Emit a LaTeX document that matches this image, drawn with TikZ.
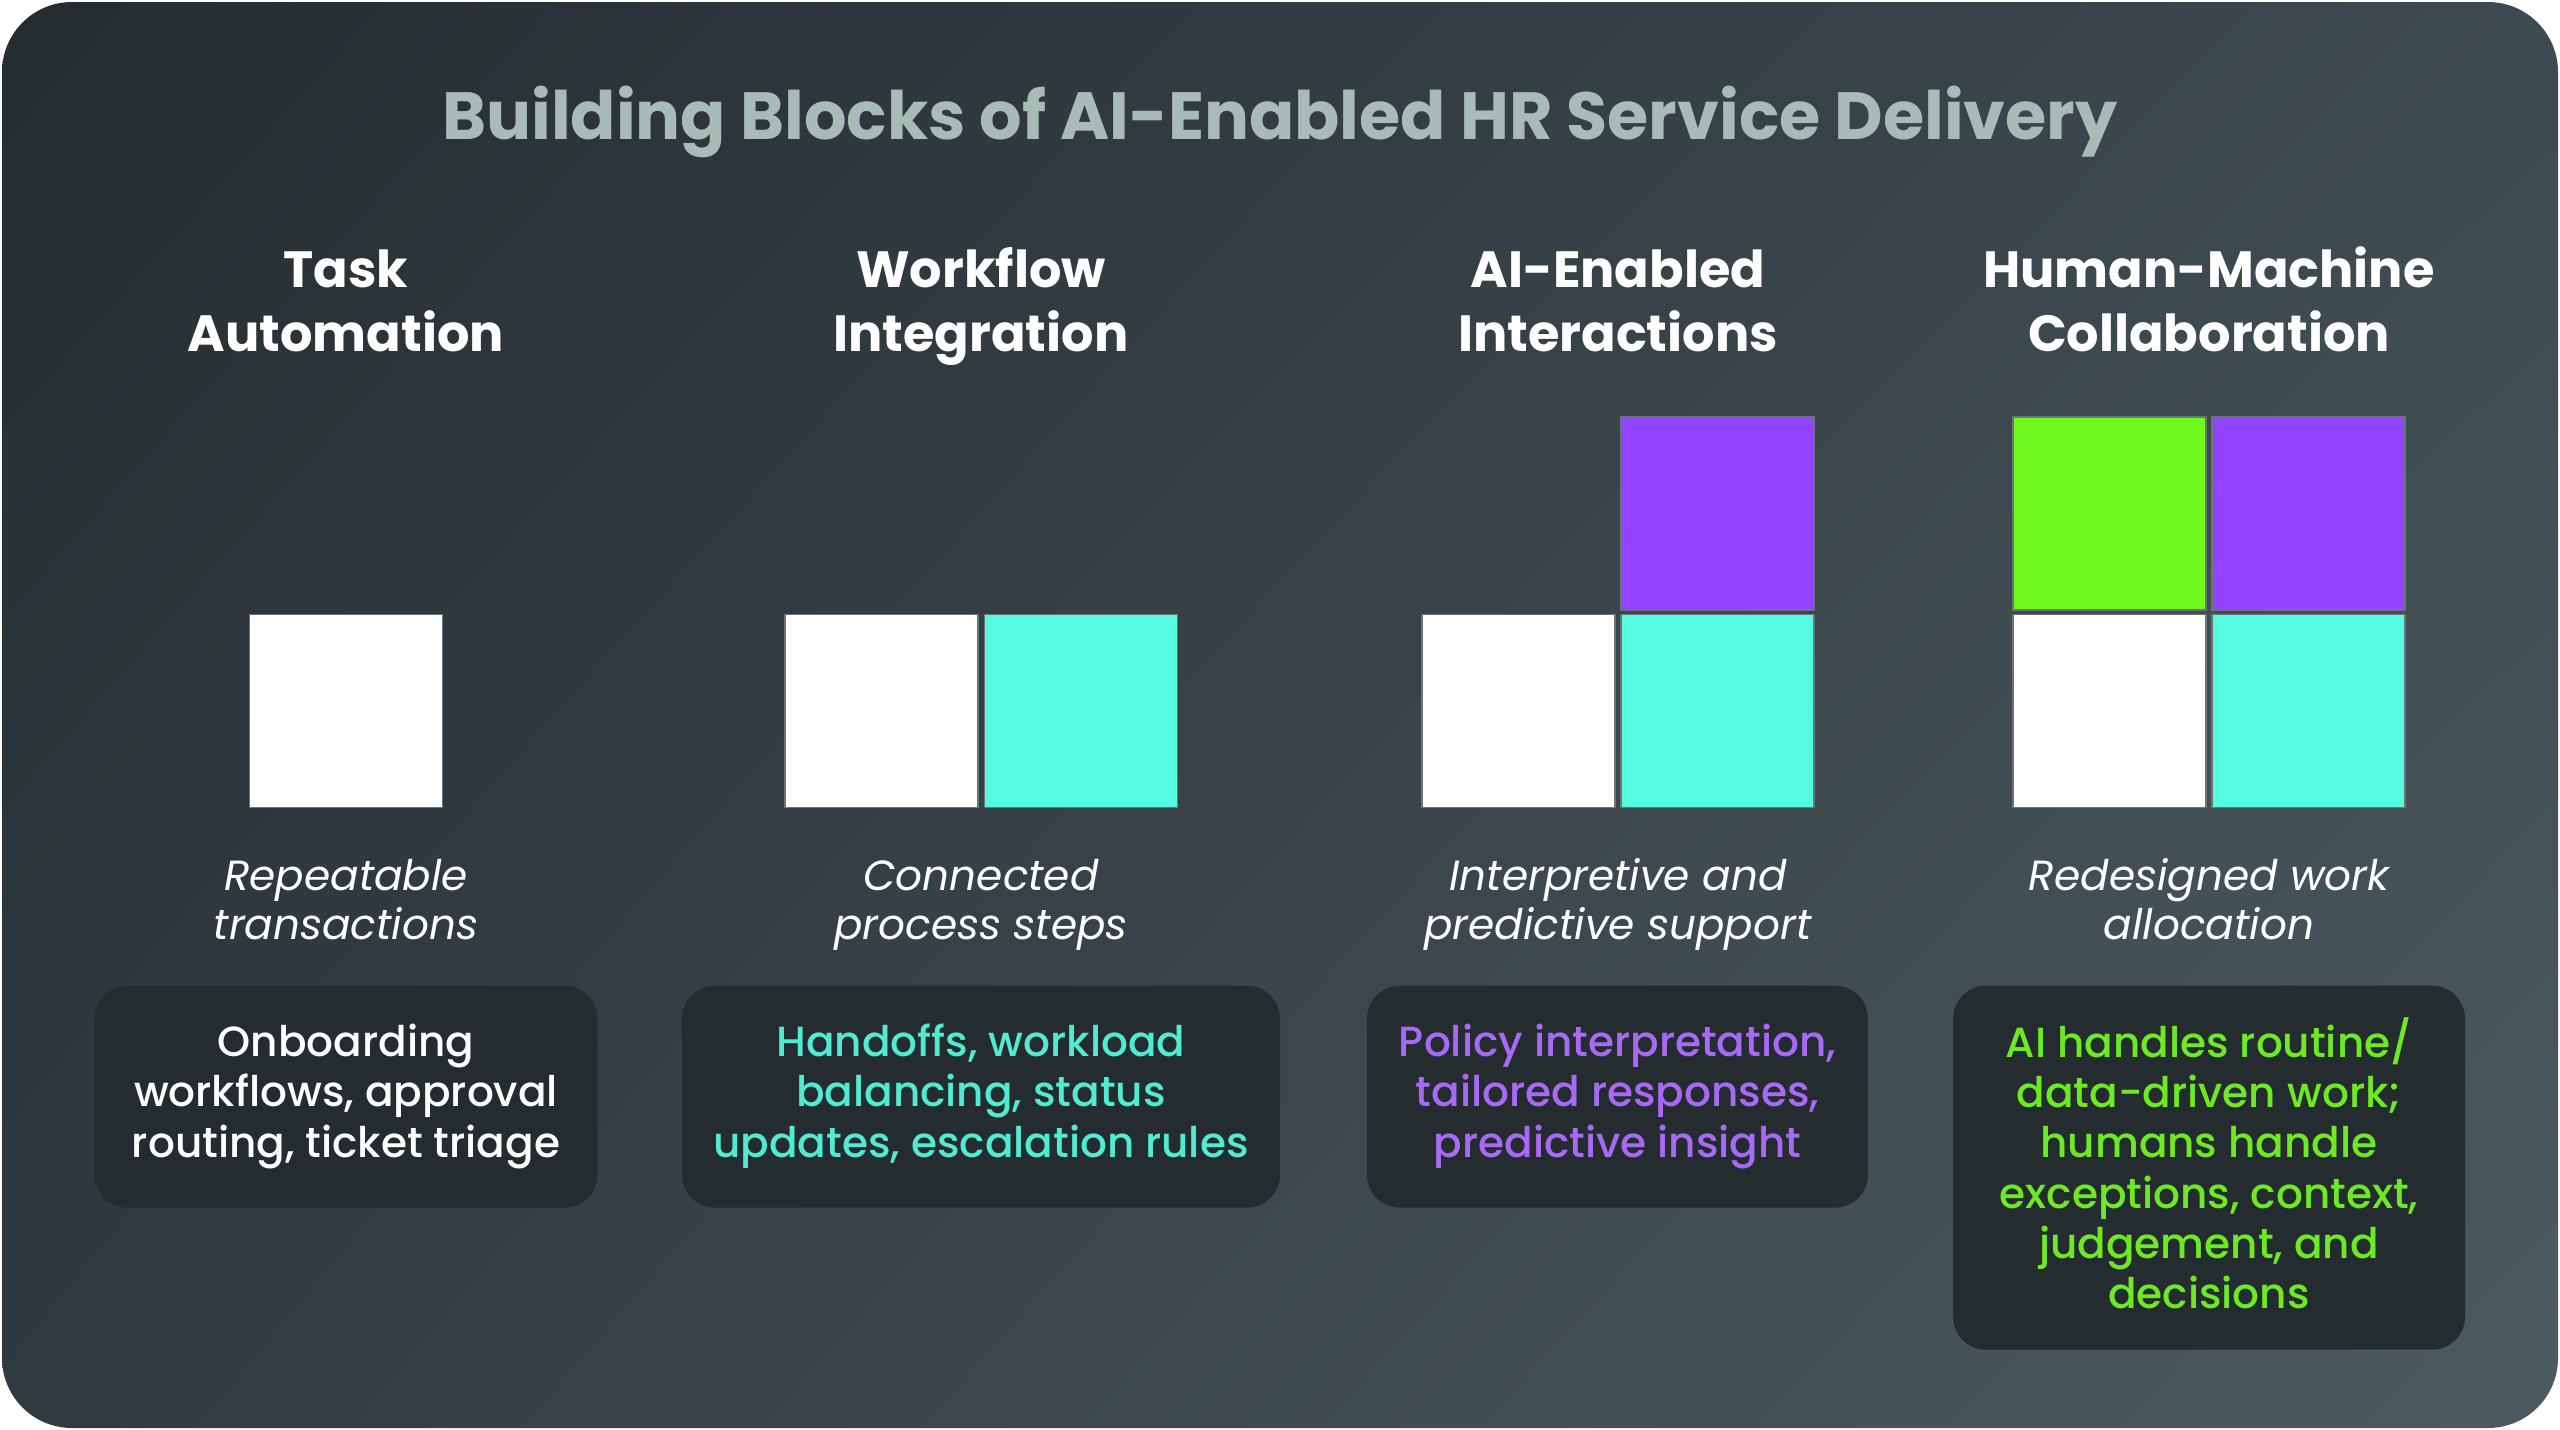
\documentclass[tikz,border=0pt]{standalone}
\usepackage{fontspec}
\usetikzlibrary{shadings}
\setmainfont{Poppins}
\IfFontExistsTF{Poppins Medium}{\newfontfamily\boxfont{Poppins Medium}}{\newfontfamily\boxfont{Poppins}}
\definecolor{bgTL}{HTML}{252C30}
\definecolor{bgTR}{HTML}{3D4A4F}
\definecolor{bgBL}{HTML}{313B3F}
\definecolor{bgBR}{HTML}{4C5B60}
\definecolor{boxfill}{HTML}{252C30}
\definecolor{titlecol}{HTML}{A9BBB6}
\definecolor{teal}{HTML}{55FCDF}
\definecolor{purp}{HTML}{9344FF}
\definecolor{grn}{HTML}{6FF720}
\definecolor{tealtxt}{HTML}{50EBD2}
\definecolor{purptxt}{HTML}{A86AF4}
\definecolor{grntxt}{HTML}{6EEA25}
\definecolor{sqedge}{HTML}{6A7579}
\begin{document}
\begin{tikzpicture}[x=0.1mm,y=-0.1mm,
  titlestyle/.style={text=titlecol,font=\fontsize{19}{22}\selectfont\bfseries,inner sep=0pt,anchor=base},
  headstyle/.style={text=white,align=center,font=\fontsize{14.5}{18.2}\selectfont\bfseries,inner sep=0pt},
  substyle/.style={text=white,align=center,font=\fontsize{12}{14}\selectfont\itshape,inner sep=0pt},
  blocksq/.style={minimum size=19.3mm,inner sep=0pt,draw=sqedge,line width=0.3pt},
  infobox/.style={fill=boxfill,rounded corners=3.3mm,anchor=north,inner sep=0pt},
  infotext/.style={align=center,font=\fontsize{12}{14.3}\selectfont\boxfont,inner sep=0pt}
]
\useasboundingbox (0,0) rectangle (2560,1430);
\shade[rounded corners=7mm,upper left=bgTL,upper right=bgTR,lower left=bgBL,lower right=bgBR] (2,2) rectangle (2558,1428);

\node[titlestyle] (title) at (1280,139) {Building Blocks of AI-Enabled HR Service Delivery};

% headings
\node[headstyle] (h1) at (346,307) {\strut Task\\Automation\strut};
\node[headstyle] (h2) at (981,307) {\strut Workflow\\Integration\strut};
\node[headstyle] (h3) at (1618,307) {\strut AI-Enabled\\Interactions\strut};
\node[headstyle] (h4) at (2209,307) {\strut Human-Machine\\Collaboration\strut};

% squares
\node[blocksq,fill=white] (s1w) at (346,711) {};
\node[blocksq,fill=white] (s2w) at (881.5,711) {};
\node[blocksq,fill=teal] (s2t) at (1081,711) {};
\node[blocksq,fill=white] (s3w) at (1518.5,711) {};
\node[blocksq,fill=teal] (s3t) at (1717.5,711) {};
\node[blocksq,fill=purp] (s3p) at (1717.5,513.5) {};
\node[blocksq,fill=white] (s4w) at (2109.5,711) {};
\node[blocksq,fill=teal] (s4t) at (2308.5,711) {};
\node[blocksq,fill=grn] (s4g) at (2109.5,513.5) {};
\node[blocksq,fill=purp] (s4p) at (2308.5,513.5) {};

% subtitles
\node[substyle] (d1) at (346,905) {\strut Repeatable\\transactions\strut};
\node[substyle] (d2) at (981,905) {\strut Connected\\process steps\strut};
\node[substyle] (d3) at (1618,905) {\strut Interpretive and\\predictive support\strut};
\node[substyle] (d4) at (2209,905) {\strut Redesigned work\\allocation\strut};

% info boxes
\node[infobox,minimum width=50.3mm,minimum height=22.2mm] (b1) at (346,985) {};
\node[infobox,minimum width=59.8mm,minimum height=22.2mm] (b2) at (981,985) {};
\node[infobox,minimum width=50.1mm,minimum height=22.2mm] (b3) at (1617.5,985) {};
\node[infobox,minimum width=51.2mm,minimum height=36.4mm] (b4) at (2209,985) {};

\node[infotext,text=white] (t1) at (b1.center) {\strut Onboarding\\workflows, approval\\routing, ticket triage\strut};
\node[infotext,text=tealtxt] (t2) at (b2.center) {\strut Handoffs, workload\\balancing, status\\updates, escalation rules\strut};
\node[infotext,text=purptxt] (t3) at (b3.center) {\strut Policy interpretation,\\tailored responses,\\predictive insight\strut};
\node[infotext,text=grntxt] (t4) at ([yshift=-0.3mm]b4.center) {\strut AI handles routine/\\data-driven work;\\humans handle\\exceptions, context,\\judgement, and\\decisions\strut};
\end{tikzpicture}
\end{document}
